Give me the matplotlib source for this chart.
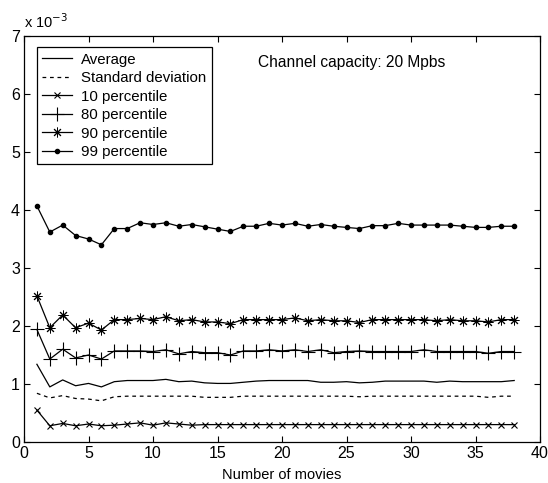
import matplotlib
matplotlib.use("Agg")
import matplotlib.pyplot as plt
import numpy as np

plt.rcParams['font.family'] = ['Liberation Sans', 'DejaVu Sans']

movies = list(range(1, 39))

average = [1.34, 0.95, 1.07, 0.97, 1.01, 0.95, 1.04, 1.06, 1.06, 1.06, 1.08, 1.04, 1.05,
           1.02, 1.01, 1.01, 1.03, 1.05, 1.06, 1.06, 1.06, 1.06, 1.03, 1.03, 1.04, 1.02,
           1.03, 1.05, 1.05, 1.05, 1.05, 1.03, 1.05, 1.04, 1.04, 1.04, 1.04, 1.06]
std_dev = [0.84, 0.76, 0.80, 0.75, 0.74, 0.71, 0.78, 0.79, 0.79, 0.79, 0.79, 0.79, 0.79,
           0.77, 0.77, 0.77, 0.79, 0.79, 0.79, 0.79, 0.79, 0.79, 0.79, 0.79, 0.79, 0.78,
           0.79, 0.79, 0.79, 0.79, 0.79, 0.79, 0.79, 0.79, 0.79, 0.77, 0.79, 0.79]
p10 = [0.55, 0.28, 0.32, 0.28, 0.31, 0.28, 0.29, 0.31, 0.33, 0.29, 0.33, 0.31, 0.29,
       0.30, 0.30, 0.30, 0.30, 0.30, 0.30, 0.30, 0.30, 0.30, 0.30, 0.30, 0.30, 0.30,
       0.30, 0.30, 0.30, 0.30, 0.30, 0.30, 0.30, 0.30, 0.30, 0.30, 0.30, 0.30]
p80 = [1.94, 1.43, 1.60, 1.45, 1.50, 1.43, 1.57, 1.57, 1.57, 1.56, 1.59, 1.52, 1.56,
       1.54, 1.54, 1.50, 1.57, 1.57, 1.59, 1.57, 1.59, 1.56, 1.59, 1.54, 1.56, 1.57,
       1.56, 1.56, 1.56, 1.56, 1.59, 1.56, 1.56, 1.56, 1.56, 1.53, 1.56, 1.56]
p90 = [2.52, 1.97, 2.19, 1.97, 2.05, 1.93, 2.11, 2.11, 2.13, 2.11, 2.16, 2.09, 2.11,
       2.07, 2.07, 2.04, 2.11, 2.11, 2.11, 2.11, 2.14, 2.09, 2.11, 2.09, 2.09, 2.06,
       2.11, 2.11, 2.11, 2.11, 2.11, 2.09, 2.11, 2.09, 2.09, 2.07, 2.11, 2.11]
p99 = [4.07, 3.62, 3.74, 3.56, 3.50, 3.40, 3.68, 3.68, 3.78, 3.75, 3.78, 3.72, 3.75,
       3.71, 3.67, 3.63, 3.72, 3.72, 3.77, 3.74, 3.77, 3.72, 3.75, 3.72, 3.70, 3.68,
       3.73, 3.73, 3.77, 3.74, 3.74, 3.74, 3.74, 3.72, 3.70, 3.70, 3.72, 3.72]

scale = 1e-3

fig = plt.figure(figsize=(5.48, 4.83), dpi=100)
ax = fig.add_axes([24/548, 41/483, 516/548, 406/483])

lw = 0.9
x = np.array(movies)
ax.plot(x, np.array(average)*scale, '-', color='black', lw=lw, label='Average')
ax.plot(x, np.array(std_dev)*scale, '--', color='black', lw=lw, dashes=(3, 3), label='Standard deviation')
ax.plot(x, np.array(p10)*scale, '-', marker='x', color='black', lw=lw, ms=4, mew=0.8, label='10 percentile')
ax.plot(x, np.array(p80)*scale, '-', marker='+', color='black', lw=lw, ms=10, mew=0.8, label='80 percentile')
ax.plot(x, np.array(p90)*scale, '-', marker=(8, 2, 0), color='black', lw=lw, ms=7, mew=0.7, label='90 percentile')
ax.plot(x, np.array(p99)*scale, '-', marker='o', color='black', lw=lw, ms=3, label='99 percentile')

ax.set_xlim(0, 40)
ax.set_ylim(0, 7e-3)
ax.set_xticks(range(0, 41, 5))
ax.set_yticks(np.arange(0, 8)*scale)
ax.set_yticklabels([str(i) for i in range(8)])
ax.tick_params(direction='in', top=True, right=True, length=4, labelsize=11.5, pad=3)
for s in ax.spines.values():
    s.set_linewidth(0.9)

ax.text(0.0, 1.012, r'x 10$^{-3}$', transform=ax.transAxes, fontsize=10.5, ha='left', va='bottom')
ax.set_xlabel('Number of movies', fontsize=10.5, labelpad=5)
ax.text(25.4, 6.55e-3, 'Channel capacity: 20 Mpbs', fontsize=11.2, ha='center', va='center')

leg = ax.legend(loc='upper left', bbox_to_anchor=(0.025, 0.972), fontsize=10.8, frameon=True,
                fancybox=False, edgecolor='black', framealpha=1, borderpad=0.35,
                labelspacing=0.3, handlelength=2.0, handletextpad=0.6, borderaxespad=0)
leg.get_frame().set_linewidth(0.9)

fig.savefig('out.png', dpi=100)
